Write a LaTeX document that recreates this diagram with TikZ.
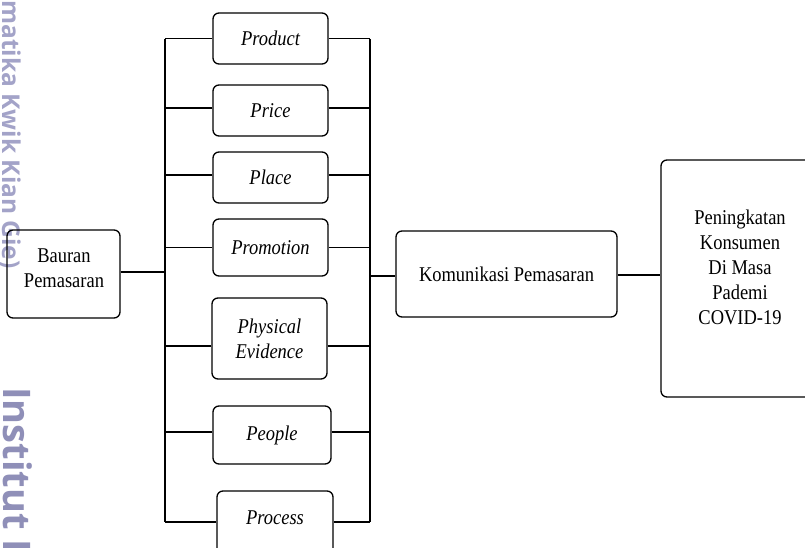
\documentclass[tikz,border=0pt]{standalone}
\usepackage{fontspec}
\setmainfont[FakeStretch=0.88]{Liberation Serif}
\newfontfamily\wmfont{Open Sans}
\definecolor{wmlight}{RGB}{163,163,200}
\definecolor{wmdark}{RGB}{143,143,184}
\begin{document}
\begin{tikzpicture}[x=1pt,y=-1pt,
  box/.style={draw, line width=1.3pt, rounded corners=6pt, inner sep=0pt, align=center},
  conn/.style={line width=1.3pt},
  lbl/.style={font=\fontsize{21}{25}\selectfont, align=center},
  ilbl/.style={font=\fontsize{21}{25}\selectfont\itshape, align=center},
  wm/.style={rotate=-90, anchor=base west, inner sep=0pt}]
\useasboundingbox (0,0) rectangle (805,548);
\clip (0,0) rectangle (805,548);
% watermark
\node[wm, text=wmlight, font=\wmfont\bfseries\fontsize{24.5}{24.5}\selectfont] (wm1) at (2,0) {matika Kwik Kian Gie)};
\node[wm, text=wmdark, font=\wmfont\bfseries\fontsize{38}{38}\selectfont] (wm2) at (3,387) {Institut Bisnis};
% left box
\node[box, minimum width=113pt, minimum height=88pt] (bauran) at (63.5,274) {};
\node[lbl] (bauranT) at (64,268) {Bauran\\Pemasaran};
% mix boxes
\node[box, ilbl, minimum width=115pt, minimum height=51pt] (product) at (270.5,38.5) {Product};
\node[box, ilbl, minimum width=115pt, minimum height=51pt] (price) at (270.5,110.5) {Price};
\node[box, ilbl, minimum width=115pt, minimum height=51pt] (place) at (270.5,177.5) {Place};
\node[box, ilbl, minimum width=115pt, minimum height=57pt] (promotion) at (270.5,247.5) {Promotion};
\node[box, ilbl, minimum width=115pt, minimum height=81pt] (physical) at (269.5,338.5) {Physical\\Evidence};
\node[box, ilbl, minimum width=118pt, minimum height=58pt] (people) at (272,435) {People};
\node[box, minimum width=116pt, minimum height=76pt] (process) at (275,529) {};
\node[ilbl] (processT) at (275,518) {Process};
% right boxes
\node[box, lbl, minimum width=221pt, minimum height=86pt] (kom) at (506.5,274) {Komunikasi Pemasaran};
\node[box, minimum width=158pt, minimum height=237pt] (pen) at (740,278.5) {};
\node[lbl] (penT) at (740,267.5) {Peningkatan\\Konsumen\\Di Masa\\Pademi\\COVID-19};
% buses
\coordinate (lbt) at (165,39);
\coordinate (lbb) at (165,522);
\coordinate (rbt) at (370,39);
\coordinate (rbb) at (370,522);
\draw[conn] (lbt) -- (lbb);
\draw[conn] (rbt) -- (rbb);
\foreach \n/\d in {product/0, price/2.5, place/2.5, promotion/0, physical/-7.5, people/3, process/7}{
  \draw[conn] ([yshift=\d pt]\n.west) -- ([yshift=\d pt]\n.west -| lbt);
  \draw[conn] ([yshift=\d pt]\n.east) -- ([yshift=\d pt]\n.east -| rbt);
}
\draw[conn] ([yshift=2pt]bauran.east) -- ([yshift=2pt]bauran.east -| lbt);
\draw[conn] ([yshift=-2pt]kom.west -| rbt) -- ([yshift=-2pt]kom.west);
\draw[conn] ([yshift=-1pt]kom.east) -- ([yshift=-1pt]kom.east -| pen.west);
\end{tikzpicture}
\end{document}
